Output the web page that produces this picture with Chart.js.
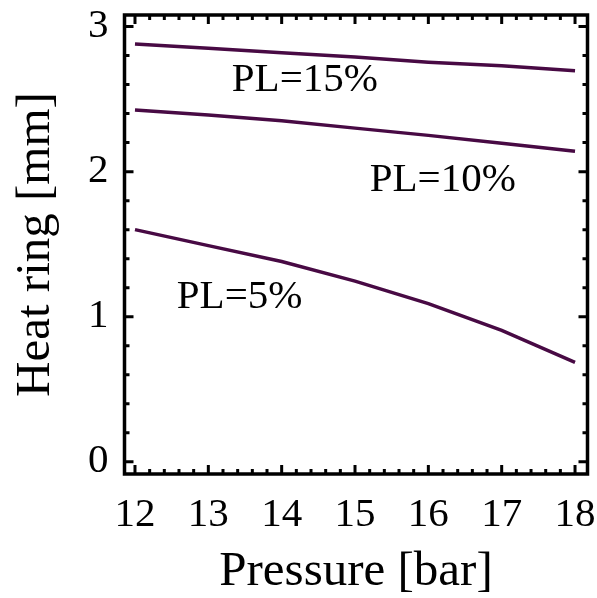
<!DOCTYPE html>
<html lang="en">
<head>
  <meta charset="UTF-8" />
  <title>Heat ring vs pressure</title>
  <script src="https://cdn.jsdelivr.net/npm/chart.js"></script>
  <style>
    html, body {
      margin: 0;
      padding: 0;
      background: #fff;
    }

    #wrap {
      width: 597px;
      height: 598px;
    }
  </style>
</head>
<body>

  <div id="wrap"><canvas id="heatChart" width="597" height="598"></canvas></div>

  <script>
    const pressure = [12, 13, 14, 15, 16, 17, 18];
    const pl15 = [2.88, 2.85, 2.82, 2.79, 2.755, 2.73, 2.695];
    const pl10 = [2.425, 2.39, 2.35, 2.30, 2.25, 2.195, 2.14];
    const pl5 = [1.60, 1.49, 1.38, 1.245, 1.09, 0.905, 0.685];

    const xTicks = [12, 13, 14, 15, 16, 17, 18];
    const yTicks = [0, 1, 2, 3];

    // curve labels, anchored in data units (left edge, vertical middle)
    const curveLabels = ["PL=15%", "PL=10%", "PL=5%"];
    const labelX = [13.32, 15.2, 12.57];
    const labelY = [2.63, 1.94, 1.135];

    const lineColor = "#480a44";
    const serif = "'Liberation Serif', 'Times New Roman', serif";

    function toPoints(ys) {
      return pressure.map((p, i) => ({ x: p, y: ys[i] }));
    }

    // frame + inward ticks on all four sides, label text
    const framePlugin = {
      id: "frame",
      afterDraw(chart) {
        const ctx = chart.ctx;
        const a = chart.chartArea;
        const xs = chart.scales.x;
        const ys = chart.scales.y;
        ctx.save();
        ctx.strokeStyle = "#000";
        ctx.lineWidth = 3;
        ctx.lineCap = "butt";

        for (let v = xTicks[0]; v <= xTicks[xTicks.length - 1] + 1e-6; v += 0.2) {
          const major = Math.abs(v - Math.round(v)) < 1e-6;
          const len = major ? 9 : 5;
          const px = xs.getPixelForValue(v);
          ctx.beginPath();
          ctx.moveTo(px, a.bottom); ctx.lineTo(px, a.bottom - len);
          ctx.moveTo(px, a.top); ctx.lineTo(px, a.top + len);
          ctx.stroke();
        }
        for (let v = yTicks[0]; v <= yTicks[yTicks.length - 1] + 1e-6; v += 0.2) {
          const major = Math.abs(v - Math.round(v)) < 1e-6;
          const len = major ? 9 : 5;
          const py = ys.getPixelForValue(v);
          ctx.beginPath();
          ctx.moveTo(a.left, py); ctx.lineTo(a.left + len, py);
          ctx.moveTo(a.right, py); ctx.lineTo(a.right - len, py);
          ctx.stroke();
        }

        ctx.lineWidth = 3.5;
        ctx.strokeRect(a.left, a.top, a.right - a.left, a.bottom - a.top);

        ctx.fillStyle = "#000";
        ctx.font = "41px " + serif;
        ctx.textAlign = "left";
        ctx.textBaseline = "middle";
        curveLabels.forEach((t, i) => {
          ctx.fillText(t, xs.getPixelForValue(labelX[i]), ys.getPixelForValue(labelY[i]));
        });
        ctx.restore();
      }
    };

    const lineStyle = {
      borderColor: lineColor,
      borderWidth: 3.5,
      pointRadius: 0,
      tension: 0,
      fill: false
    };

    new Chart(document.getElementById("heatChart"), {
      type: "line",
      data: {
        datasets: [
          { label: curveLabels[0], data: toPoints(pl15), ...lineStyle },
          { label: curveLabels[1], data: toPoints(pl10), ...lineStyle },
          { label: curveLabels[2], data: toPoints(pl5), ...lineStyle }
        ]
      },
      plugins: [framePlugin],
      options: {
        responsive: false,
        animation: false,
        devicePixelRatio: 1,
        layout: {
          padding: { left: 0, right: 9.5, top: 15, bottom: 0 }
        },
        plugins: {
          legend: { display: false },
          tooltip: { enabled: false }
        },
        scales: {
          x: {
            type: "linear",
            min: 11.857,
            max: 18.17,
            afterBuildTicks: s => { s.ticks = xTicks.map(v => ({ value: v })); },
            afterFit: s => {
              s.height = 124;
              s.paddingLeft = 0;
              s.paddingRight = 0;
            },
            grid: { display: false, drawTicks: false },
            border: { display: false },
            ticks: {
              autoSkip: false,
              maxRotation: 0,
              color: "#000",
              padding: 17,
              font: { family: serif, size: 41 }
            },
            title: {
              display: true,
              text: "Pressure [bar]",
              color: "#000",
              font: { family: serif, size: 49 },
              padding: { top: 0, bottom: -4 }
            }
          },
          y: {
            min: -0.085,
            max: 3.08,
            afterBuildTicks: s => { s.ticks = yTicks.map(v => ({ value: v })); },
            afterFit: s => {
              s.width = 124.5;
              s.paddingTop = 0;
              s.paddingBottom = 0;
            },
            grid: { display: false, drawTicks: false },
            border: { display: false },
            ticks: {
              autoSkip: false,
              color: "#000",
              padding: 16,
              font: { family: serif, size: 41 }
            },
            title: {
              display: true,
              text: "Heat ring [mm]",
              color: "#000",
              font: { family: serif, size: 49 },
              padding: { top: 7, bottom: 0 }
            }
          }
        }
      }
    });
  </script>

</body>
</html>
